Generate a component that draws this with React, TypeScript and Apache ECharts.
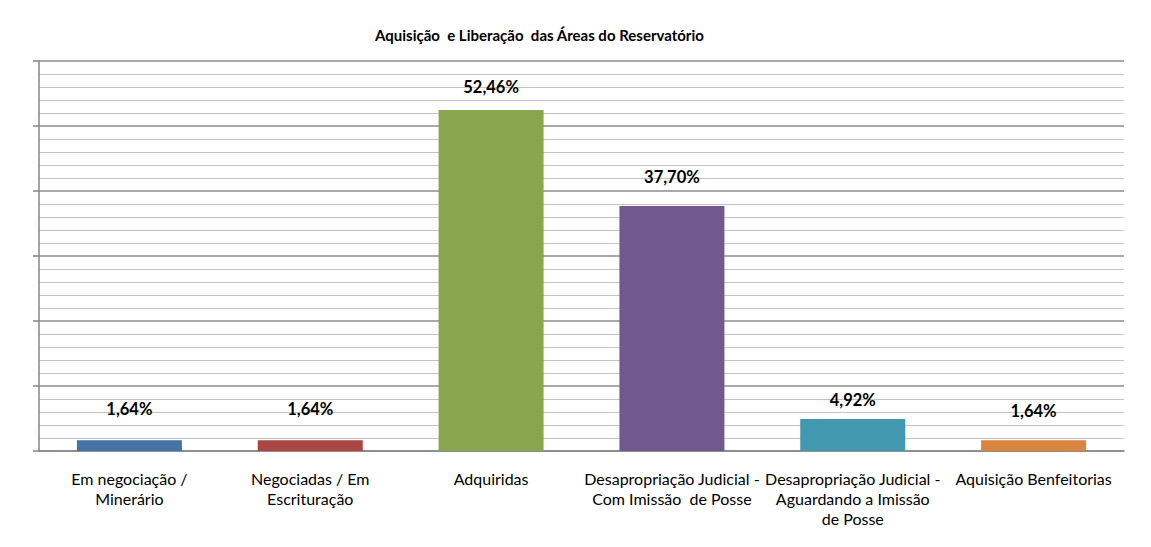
import React, { useEffect, useRef } from "react";
import * as echarts from "echarts";

const categories = [
  "Em negociação /\nMinerário",
  "Negociadas / Em\nEscrituração",
  "Adquiridas",
  "Desapropriação Judicial -\nCom Imissão  de Posse",
  "Desapropriação Judicial -\nAguardando a Imissão\nde Posse",
  "Aquisição Benfeitorias",
];
const values = [1.64, 1.64, 52.46, 37.7, 4.92, 1.64];
const colors = ["#4572A7", "#AA4643", "#89A54E", "#71588F", "#4198AF", "#DB843D"];
const labelDistances = [23, 23, 15, 20, 11, 21];
const title = "Aquisição  e Liberação  das Áreas do Reservatório";

export default function App() {
  const ref = useRef<HTMLDivElement>(null);
  useEffect(() => {
    const chart = echarts.init(ref.current!, null, { renderer: "svg" });
    const font = "Lato, 'Open Sans', sans-serif";
    chart.setOption({
      animation: false,
      backgroundColor: "#ffffff",
      textStyle: { fontFamily: font },
      title: {
        text: title,
        left: 370,
        top: 22,
        textStyle: { fontSize: 15, fontWeight: "bold", color: "#000", fontFamily: font },
      },
      graphic: [
        {
          type: "rect",
          left: 6,
          top: 6,
          z: 100,
          silent: true,
          shape: { width: 1160, height: 560 },
          style: { fill: "transparent", stroke: "#888888", lineWidth: 1.5 },
        },
      ],
      grid: { left: 39, right: 27, top: 61, bottom: 96, containLabel: false },
      xAxis: {
        type: "category",
        data: categories,
        axisLine: { show: true, lineStyle: { color: "#868686", width: 1.5 } },
        axisTick: { show: false },
        axisLabel: {
          interval: 0,
          color: "#000",
          fontSize: 16,
          lineHeight: 20,
          margin: 17,
          fontFamily: font,
        },
      },
      yAxis: {
        type: "value",
        min: 0,
        max: 60,
        interval: 10,
        axisLabel: { show: false },
        axisLine: { show: true, lineStyle: { color: "#868686", width: 1.5 } },
        axisTick: { show: true, length: 6, lineStyle: { color: "#868686", width: 1.5 } },
        splitLine: { show: true, lineStyle: { color: "#8c8c8c", width: 1.5 } },
        minorTick: { show: false, splitNumber: 5 },
        minorSplitLine: { show: true, lineStyle: { color: "#c3c3c3", width: 1.2 } },
      },
      series: [
        {
          type: "bar",
          barWidth: 105,
          data: values.map((v, i) => ({
            value: v,
            itemStyle: { color: colors[i] },
            label: { distance: labelDistances[i] },
          })),
          label: {
            show: true,
            position: "top",
            fontSize: 16.5,
            fontWeight: "bold",
            color: "#000",
            fontFamily: font,
            formatter: (p: any) => p.value.toFixed(2).replace(".", ",") + "%",
          },
        },
      ],
    });
    return () => chart.dispose();
  }, []);
  return (
    <div
      style={{
        position: "relative",
        width: 1151,
        height: 547,
        marginLeft: -8,
        marginTop: -8,
        overflow: "hidden",
        background: "#fff",
      }}
    >
      <div ref={ref} style={{ position: "absolute", left: 0, top: 0, width: 1151, height: 547 }} />
    </div>
  );
}
